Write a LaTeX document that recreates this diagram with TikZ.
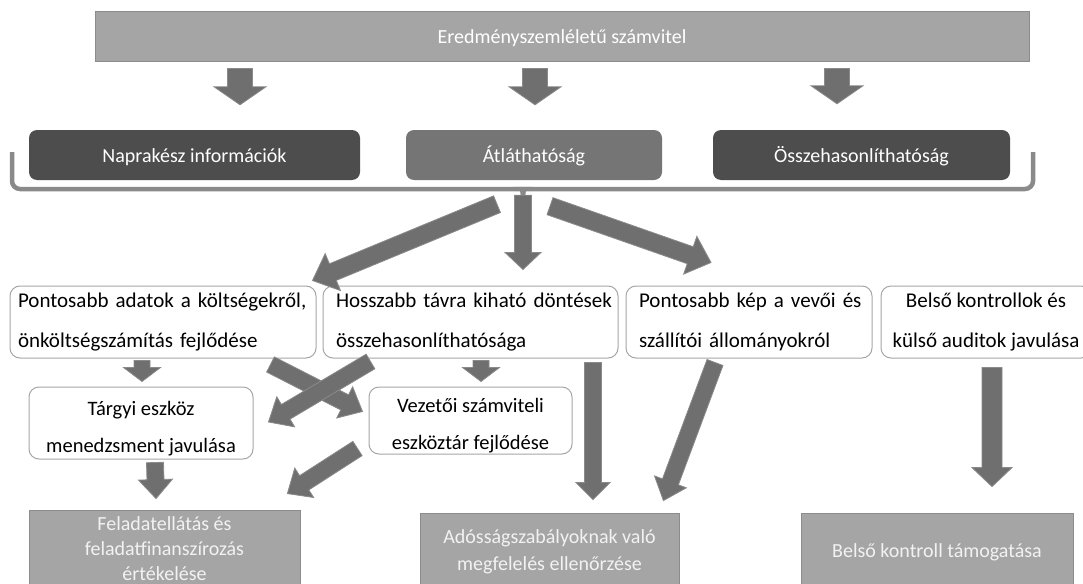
\documentclass[tikz,border=0pt]{standalone}
\usepackage{fontspec}
\setmainfont{Carlito}
\usetikzlibrary{calc}
\definecolor{headfill}{HTML}{A5A5A5}
\definecolor{headedge}{HTML}{8C8C8C}
\definecolor{darkfill}{HTML}{4D4D4D}
\definecolor{midfill}{HTML}{757575}
\definecolor{arrowfill}{HTML}{6F6F6F}
\definecolor{arrowedge}{HTML}{8A8A8A}
\definecolor{boxedge}{HTML}{A6A6A6}
\definecolor{paletext}{HTML}{F2F2F2}
\tikzset{
  headbox/.style={draw=headedge,fill=headfill,line width=1pt,inner sep=0pt,
    minimum height=50pt,text height=13pt,text depth=0pt,text=white,
    font=\fontsize{20}{24}\selectfont},
  darkbox/.style={fill=darkfill,rounded corners=8pt,inner sep=0pt,
    minimum height=50pt,text height=14pt,text depth=0pt,text=white,
    font=\fontsize{20}{24}\selectfont},
  whitebox/.style={draw=boxedge,fill=white,line width=1pt,rounded corners=10pt,
    inner ysep=0pt,inner xsep=7pt,minimum height=72pt,align=center,
    font=\fontsize{21}{40}\selectfont},
  lowbox/.style={whitebox,font=\fontsize{20.5}{37}\selectfont},
  resultbox/.style={draw=headedge,fill=headfill,line width=0.8pt,inner sep=0pt,
    minimum height=78pt,align=center,text=paletext,
    font=\fontsize{20}{26.5}\selectfont},
  bracepen/.style={draw=arrowedge,line width=4.5pt},
  blockarrow/.style={fill=arrowfill,draw=arrowedge,line width=0.8pt},
}
% block arrow: from, to, half shaft, half head, head length
\newcommand{\blockarr}[5]{%
  \coordinate (ba-s) at (#1);
  \coordinate (ba-e) at (#2);
  \coordinate (ba-b) at ($(ba-e)!#5!(ba-s)$);
  \filldraw[blockarrow] ($(ba-s)!#3!90:(ba-e)$) -- ($(ba-b)!#3!-90:(ba-s)$)
    -- ($(ba-b)!#4!-90:(ba-s)$) -- (ba-e) -- ($(ba-b)!#4!90:(ba-s)$)
    -- ($(ba-b)!#3!90:(ba-s)$) -- ($(ba-s)!#3!-90:(ba-e)$) -- cycle;
}
\newcommand{\topstrut}{\rule{0pt}{25pt}}
\begin{document}
\begin{tikzpicture}[x=1pt,y=-1pt]
\useasboundingbox (0,0) rectangle (1083,583);
\clip (0,0) rectangle (1083,583);
\fill[white] (0,0) rectangle (1083,583);

% top and second row
\node[headbox,minimum width=934pt] (top) at (562,37) {Eredményszemléletű számvitel};
\node[darkbox,minimum width=331pt] (napra) at (194.5,155) {Naprakész információk};
\node[darkbox,fill=midfill,minimum width=256pt] (atl) at (534,155) {Átláthatóság};
\node[darkbox,minimum width=297pt] (ossze) at (861.5,155) {Összehasonlíthatóság};

\blockarr{[xshift=-322pt,yshift=-6pt]top.south}{[xshift=45.5pt,yshift=25pt]napra.north}{12.5pt}{26pt}{18pt}
\blockarr{[xshift=-27pt,yshift=-6pt]top.south}{[xshift=1pt,yshift=25pt]atl.north}{12.5pt}{26pt}{18pt}
\blockarr{[xshift=275pt,yshift=-6pt]top.south}{[xshift=-24.5pt,yshift=26pt]ossze.north}{12.5pt}{26pt}{18pt}

% brace under the second row
\draw[bracepen,rounded corners=8pt] (12,152) -- (12,189) -- (515,189)
  .. controls (521,189) and (523,191) .. (523,197);
\draw[bracepen,rounded corners=8pt] (1033,152) -- (1033,189) -- (531,189)
  .. controls (525,189) and (523,191) .. (523,197);

% third row
\node[whitebox,inner xsep=8pt,text width=290pt,align=left] (pont) at (163,322)
  {Pontosabb adatok a költségekről,\\önköltségszámítás fejlődése};
\node[whitebox,inner xsep=13pt,text width=269pt,align=left] (hossz) at (470.5,322)
  {\makebox[269pt][s]{Hosszabb távra kiható döntések}\\összehasonlíthatósága};
\node[whitebox,inner xsep=13pt,text width=220pt,align=left] (kep) at (749,322)
  {\makebox[220pt][s]{Pontosabb kép a vevői és}\\szállítói állományokról};
\node[whitebox,minimum width=210pt] (belso) at (986,322)
  {Belső kontrollok és\\külső auditok javulása};

% fourth row
\node[lowbox,minimum width=224pt] (targyi) at (141,423)
  {\topstrut Tárgyi eszköz\\menedzsment javulása};
\node[lowbox,minimum width=203pt,minimum height=67pt] (vezetoi) at (470.5,420.5)
  {\topstrut Vezetői számviteli\\eszköztár fejlődése};

% results
\node[resultbox,minimum width=271pt,font=\fontsize{20}{25}\selectfont] (felad) at (164.5,549)
  {\rule{0pt}{12pt}Feladatellátás és\\feladatfinanszírozás\\értékelése};
\node[resultbox,minimum width=259pt] (ados) at (549.5,552)
  {Adósságszabályoknak való\\megfelelés ellenőrzése};
\node[resultbox,minimum width=272pt] (bkontroll) at (937,552)
  {Belső kontroll támogatása};

% arrows from the brace
\blockarr{[xshift=-37pt,yshift=-24pt]atl.south}{[xshift=-4pt,yshift=5pt]pont.north east}{9pt}{20pt}{22pt}
\blockarr{[xshift=-11pt,yshift=-15pt]atl.south}{[xshift=52.5pt,yshift=16pt]hossz.north}{8.5pt}{18pt}{17pt}
\blockarr{[xshift=16pt,yshift=-26pt]atl.south}{[xshift=-38pt,yshift=23pt]kep.north}{9pt}{20pt}{22pt}

% lower arrows
\blockarr{[xshift=-21pt,yshift=-2pt]pont.south}{[xshift=1pt,yshift=5pt]targyi.north}{8pt}{18.5pt}{14pt}
\blockarr{[xshift=10.5pt,yshift=-2pt]hossz.south}{[xshift=10.5pt,yshift=5pt]vezetoi.north}{8pt}{18.5pt}{14pt}
\blockarr{[xshift=-46pt,yshift=-6pt]pont.south east}{[xshift=-6pt,yshift=9pt]vezetoi.west}{8.5pt}{17.5pt}{20pt}
\blockarr{[xshift=48pt,yshift=-3pt]hossz.south west}{[xshift=15pt,yshift=1pt]targyi.east}{8.5pt}{17.5pt}{20pt}
\blockarr{[xshift=-11pt,yshift=6pt]vezetoi.south west}{[xshift=-13pt,yshift=16pt]felad.north east}{8.5pt}{17.5pt}{20pt}
\blockarr{[xshift=14pt,yshift=-3pt]targyi.south}{[xshift=-8.5pt,yshift=11pt]felad.north}{8.5pt}{17pt}{19pt}
\blockarr{[xshift=122.5pt,yshift=-4pt]hossz.south}{[xshift=43.5pt,yshift=13pt]ados.north}{8.5pt}{17pt}{17pt}
\blockarr{[xshift=-34pt,yshift=-4pt]kep.south}{[xshift=-16pt,yshift=12pt]ados.north east}{8.5pt}{17pt}{20pt}
\blockarr{[xshift=6pt,yshift=-9pt]belso.south}{[xshift=55pt,yshift=26pt]bkontroll.north}{10pt}{20pt}{19pt}
\end{tikzpicture}
\end{document}
